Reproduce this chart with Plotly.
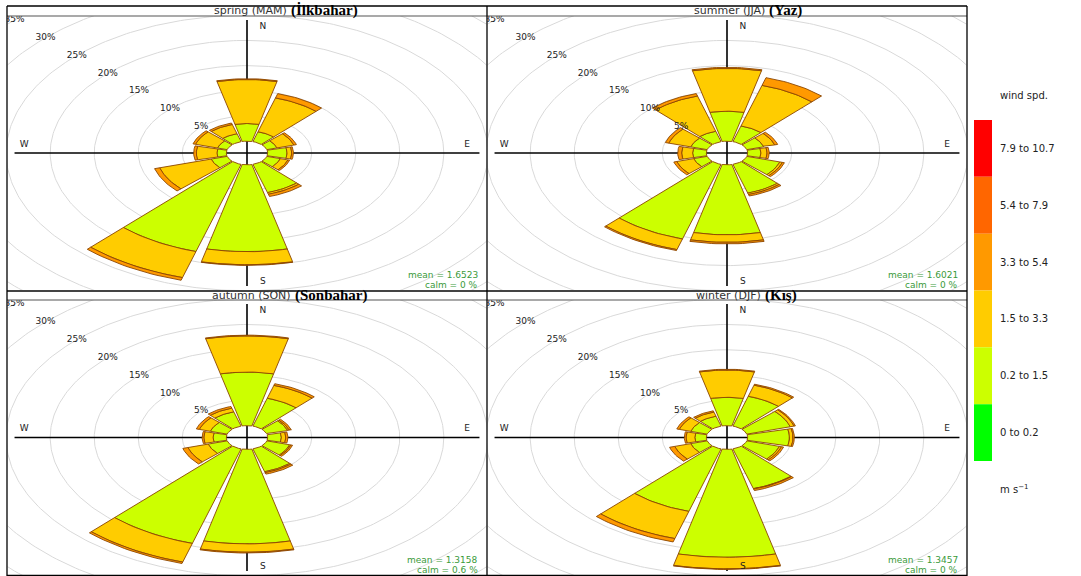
import numpy as np
import plotly.graph_objects as go

# ---------------------------------------------------------------------------
# Seasonal wind roses: frequency (%) of wind by direction and speed class
# ---------------------------------------------------------------------------
directions = [0, 30, 60, 90, 120, 150, 180, 210, 240, 270, 300, 330]

season_names = ["spring (MAM)", "summer (JJA)", "autumn (SON)", "winter (DJF)"]
season_names_tr = ["(İlkbahar)", "(Yaz)", "(Sonbahar)", "(Kış)"]
mean_speed = [1.6523, 1.6021, 1.3158, 1.3457]
calm_pct = [0, 0, 0.6, 0]

# speed classes (m/s) and their colours, lowest first
speed_bins = ["0 to 0.2", "0.2 to 1.5", "1.5 to 3.3", "3.3 to 5.4", "5.4 to 7.9", "7.9 to 10.7"]
bin_colors = ["#00FF00", "#CCFF00", "#FFCC00", "#FF9900", "#FF6600", "#FF0000"]

# frequency (%) per direction for the classes present in the data
spring_02_15 = [3.5, 2.05, 1.2, 2.2, 1.6, 5.85, 17.25, 18.05, 1.9, 1.06, 1.15, 1.65]
spring_15_33 = [8.75, 7.0, 2.0, 0.53, 0.9, 0.35, 2.6, 5.4, 6.1, 2.35, 2.6, 1.9]
spring_33_54 = [0.15, 0.9, 0.3, 0.2, 0.2, 0.45, 0.1, 0.55, 0.6, 0.3, 0.3, 0.3]

summer_02_15 = [5.95, 3.25, 2.0, 1.5, 3.9, 5.95, 13.9, 15.45, 1.6, 1.55, 1.95, 2.15]
summer_15_33 = [8.5, 8.4, 1.3, 0.7, 0.3, 0.3, 1.5, 2.2, 2.0, 1.25, 2.6, 7.3]
summer_33_54 = [0.2, 1.6, 0.35, 0.25, 0.25, 0.3, 0.3, 0.2, 0.35, 0.45, 0.4, 0.5]

autumn_02_15 = [10.6, 5.75, 2.45, 1.55, 2.7, 4.7, 18.7, 19.5, 2.25, 1.5, 2.0, 2.95]
autumn_15_33 = [7.15, 2.65, 0.2, 0.5, 0.15, 0.2, 1.65, 3.85, 2.4, 1.05, 1.3, 0.75]
autumn_33_54 = [0.15, 0.35, 0.25, 0.25, 0.2, 0.3, 0.15, 0.3, 0.6, 0.2, 0.35, 0.35]

winter_02_15 = [5.6, 6.15, 5.15, 4.75, 3.85, 8.2, 21.35, 12.9, 1.95, 1.3, 1.95, 2.05]
winter_15_33 = [5.4, 2.3, 0.45, 0.4, 0.25, 0.1, 2.3, 5.6, 1.9, 1.0, 1.35, 0.85]
winter_33_54 = [0.15, 0.2, 0.15, 0.15, 0.25, 0.3, 0.1, 0.7, 0.6, 0.2, 0.3, 0.25]

season_stacks = [
    [spring_02_15, spring_15_33, spring_33_54],
    [summer_02_15, summer_15_33, summer_33_54],
    [autumn_02_15, autumn_15_33, autumn_33_54],
    [winter_02_15, winter_15_33, winter_33_54],
]
stack_colors = bin_colors[1:4]

ring_pct = [5, 10, 15, 20, 25, 30, 35]

# ---------------------------------------------------------------------------
# geometry / styling
# ---------------------------------------------------------------------------
W, H = 1081, 576
HOLE = 2.35          # radius of the empty centre, in % units
HALF_W = 13.5        # half angular width of a wedge (deg)
R = 27.2             # axis half-range
AXLEN = 26.4         # length of the cross-hair arms
BORDER = "#8B4500"
FONT = "DejaVu Sans"


def px_x(x):
    return x / W


def px_y(y):
    return 1 - y / H


panels = [  # (x0, x1, y0, y1) of each plotting area in pixels
    (7.5, 486.5, 16, 290),
    (487.5, 966.5, 16, 290),
    (7.5, 486.5, 300, 575),
    (487.5, 966.5, 300, 575),
]
title_y = [11, 11, 295.5, 295.5]
title_join = [42, 40, 46, 36]   # pixel offset of the Turkish name from the centre

fig = go.Figure()


def wedge(theta, r0, r1, n=18):
    a = np.radians(np.linspace(theta - HALF_W, theta + HALF_W, n))
    xo, yo = r1 * np.sin(a), r1 * np.cos(a)
    xi, yi = r0 * np.sin(a[::-1]), r0 * np.cos(a[::-1])
    xs = np.concatenate([xo, xi, xo[:1]])
    ys = np.concatenate([yo, yi, yo[:1]])
    return xs, ys


t = np.radians(np.linspace(0, 360, 361))

for k, stacks in enumerate(season_stacks):
    xa = "x" if k == 0 else f"x{k + 1}"
    ya = "y" if k == 0 else f"y{k + 1}"

    # grid rings
    for p in ring_pct:
        rr = HOLE + p
        fig.add_trace(go.Scatter(x=rr * np.sin(t), y=rr * np.cos(t), mode="lines",
                                 line=dict(color="#D9D9D9", width=1),
                                 hoverinfo="skip", showlegend=False, xaxis=xa, yaxis=ya))
    # cross-hair
    fig.add_trace(go.Scatter(x=[-AXLEN, AXLEN, None, 0, 0], y=[0, 0, None, -AXLEN, AXLEN],
                             mode="lines", line=dict(color="black", width=1.6),
                             hoverinfo="skip", showlegend=False, xaxis=xa, yaxis=ya))

    # stacked wedges
    for j, d in enumerate(directions):
        r0 = HOLE
        for b, vals in enumerate(stacks):
            v = vals[j]
            if v <= 0:
                continue
            r1 = r0 + v
            xs, ys = wedge(d, r0, r1)
            fig.add_trace(go.Scatter(x=xs, y=ys, mode="lines", fill="toself",
                                     fillcolor=stack_colors[b],
                                     line=dict(color=BORDER, width=0.9),
                                     hoverinfo="skip", showlegend=False,
                                     xaxis=xa, yaxis=ya))
            r0 = r1

    # ring labels along the north-west diagonal
    ang = np.radians(315)
    fig.add_trace(go.Scatter(
        x=[(HOLE + p) * np.sin(ang) for p in ring_pct],
        y=[(HOLE + p) * np.cos(ang) for p in ring_pct],
        text=[f"{p}%" for p in ring_pct], mode="text",
        textfont=dict(family=FONT, size=9, color="#222222"),
        cliponaxis=True, hoverinfo="skip", showlegend=False, xaxis=xa, yaxis=ya))

    # compass letters
    fig.add_trace(go.Scatter(
        x=[1.8, 1.8, -25.3, 25.0], y=[25.1, -25.6, 1.65, 1.65],
        text=["N", "S", "W", "E"], mode="text",
        textfont=dict(family=FONT, size=9, color="#222222"),
        cliponaxis=True, hoverinfo="skip", showlegend=False, xaxis=xa, yaxis=ya))

    # mean / calm notes
    fig.add_annotation(x=R - 0.7, y=-24.2, xref=xa, yref=ya, xanchor="right", yanchor="middle",
                       text=f"mean = {mean_speed[k]:.4f}", showarrow=False,
                       font=dict(family=FONT, size=9, color="#3A9A3A"))
    fig.add_annotation(x=R - 0.7, y=-26.2, xref=xa, yref=ya, xanchor="right", yanchor="middle",
                       text=f"calm = {calm_pct[k]:g} %", showarrow=False,
                       font=dict(family=FONT, size=9, color="#3A9A3A"))

    # strip title
    x0, x1, y0, y1 = panels[k]
    cx = (x0 + x1) / 2 + title_join[k]
    fig.add_annotation(x=px_x(cx), y=px_y(title_y[k]), xref="paper", yref="paper",
                       xanchor="right", yanchor="middle", text=season_names[k], showarrow=False,
                       font=dict(family=FONT, size=11, color="#333333"))
    fig.add_annotation(x=px_x(cx), y=px_y(title_y[k]), xref="paper", yref="paper",
                       xanchor="left", yanchor="middle", text=f"<b>{season_names_tr[k]}</b>",
                       showarrow=False,
                       font=dict(family="Liberation Serif", size=15, color="black"))

    # axes
    ax = dict(range=[-R, R], visible=False, showgrid=False, zeroline=False, fixedrange=True,
              domain=[px_x(x0), px_x(x1)])
    ay = dict(range=[-R, R], visible=False, showgrid=False, zeroline=False, fixedrange=True,
              domain=[px_y(y1), px_y(y0)])
    sfx = "" if k == 0 else str(k + 1)
    fig.update_layout(**{f"xaxis{sfx}": dict(ax, anchor=ya),
                         f"yaxis{sfx}": dict(ay, anchor=xa)})

# panel frames
shapes = []


def hline(y, x0, x1, color="black", w=1.3):
    shapes.append(dict(type="line", xref="paper", yref="paper", x0=px_x(x0), x1=px_x(x1),
                       y0=px_y(y), y1=px_y(y), line=dict(color=color, width=w)))


def vline(x, y0, y1, color="black", w=1.3):
    shapes.append(dict(type="line", xref="paper", yref="paper", x0=px_x(x), x1=px_x(x),
                       y0=px_y(y0), y1=px_y(y1), line=dict(color=color, width=w)))


hline(6, 7, 967)
hline(16, 7, 967, color="#555555", w=1.2)
hline(291, 7, 967, color="#444444", w=1.8)
hline(300, 7, 967, color="#555555", w=1.2)
hline(575.5, 7, 967)
vline(7, 6, 576)
vline(487, 6, 576)
vline(967, 6, 576)

# colour key
key_x0, key_x1 = 974, 992
key_top, key_bot = 120, 461
n_bins = len(speed_bins)
step = (key_bot - key_top) / n_bins
annotations = []
for i in range(n_bins):
    idx = n_bins - 1 - i
    ya0 = key_top + i * step
    shapes.append(dict(type="rect", xref="paper", yref="paper",
                       x0=px_x(key_x0), x1=px_x(key_x1), y0=px_y(ya0 + step), y1=px_y(ya0),
                       fillcolor=bin_colors[idx], line=dict(width=0)))
    annotations.append(dict(x=px_x(998), y=px_y(ya0 + step / 2), xref="paper", yref="paper",
                            xanchor="left", yanchor="middle", text=speed_bins[idx],
                            showarrow=False, font=dict(family=FONT, size=10, color="#222222")))
annotations.append(dict(x=px_x(998), y=px_y(95), xref="paper", yref="paper", xanchor="left",
                        yanchor="middle", text="wind spd.", showarrow=False,
                        font=dict(family=FONT, size=10, color="#222222")))
annotations.append(dict(x=px_x(998), y=px_y(489), xref="paper", yref="paper", xanchor="left",
                        yanchor="middle", text="m s<sup>−1</sup>", showarrow=False,
                        font=dict(family=FONT, size=10, color="#222222")))

fig.update_layout(
    width=W, height=H,
    margin=dict(l=0, r=0, t=0, b=0),
    paper_bgcolor="white", plot_bgcolor="white",
    showlegend=False,
    shapes=shapes,
)
for a in annotations:
    fig.add_annotation(**a)

fig.write_html("out.html")
